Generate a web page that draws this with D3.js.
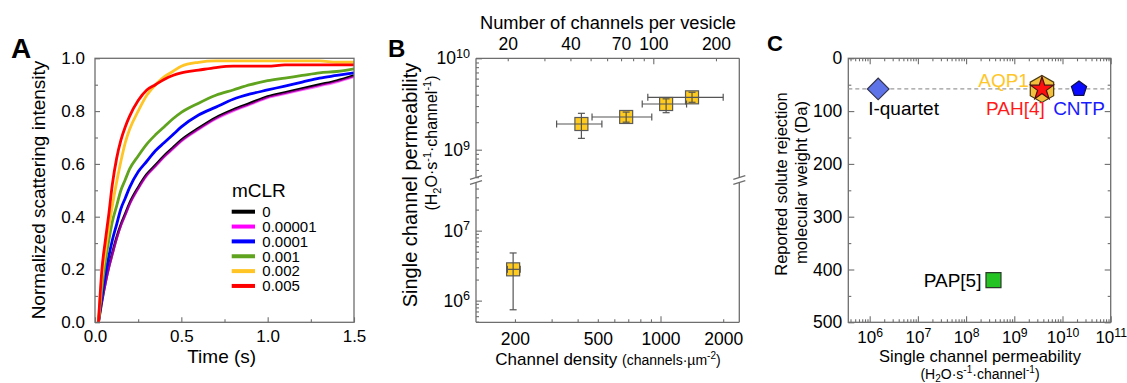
<!DOCTYPE html>
<html><head><meta charset="utf-8">
<script src="https://cdn.jsdelivr.net/npm/d3@7"></script>
<style>
html,body{margin:0;padding:0;background:#fff;}
svg{display:block;font-family:"Liberation Sans",Arial,Helvetica,sans-serif;}
</style></head><body>
<svg id="fig" width="1127" height="383"></svg>
<script>
// ---------- Panel A: normalized light-scattering traces ----------
const timeS = [0.02,0.04,0.06,0.08,0.10,0.125,0.15,0.175,0.20,0.25,0.30,0.35,0.40,0.45,0.50,0.60,0.70,0.80,0.90,1.00,1.10,1.20,1.30,1.40,1.50];
const mclrLabels = ["0","0.00001","0.0001","0.001","0.002","0.005"];
const mclrColors = ["#000000","#ff00ff","#0000ff","#5fa31e","#ffc425","#ff0000"];
const trace0     = [0,0.08,0.15,0.21,0.26,0.32,0.37,0.41,0.45,0.51,0.56,0.595,0.63,0.66,0.69,0.735,0.775,0.805,0.83,0.855,0.87,0.885,0.90,0.915,0.935];
const trace00001 = [0,0.08,0.145,0.205,0.255,0.315,0.365,0.405,0.445,0.505,0.555,0.59,0.625,0.655,0.685,0.73,0.77,0.80,0.825,0.85,0.865,0.88,0.895,0.91,0.93];
const trace0001  = [0,0.10,0.18,0.25,0.31,0.37,0.43,0.47,0.51,0.57,0.61,0.65,0.68,0.71,0.74,0.785,0.815,0.845,0.865,0.88,0.895,0.91,0.925,0.935,0.945];
const trace001   = [0,0.13,0.23,0.31,0.38,0.44,0.50,0.54,0.58,0.63,0.675,0.71,0.74,0.77,0.795,0.83,0.86,0.88,0.90,0.915,0.925,0.935,0.945,0.95,0.96];
const trace002   = [0,0.17,0.27,0.36,0.44,0.53,0.61,0.68,0.73,0.80,0.86,0.90,0.93,0.95,0.97,0.985,0.99,0.99,0.99,0.99,0.99,0.99,0.99,0.985,0.985];
const trace005   = [0,0.20,0.31,0.41,0.52,0.62,0.69,0.74,0.78,0.84,0.88,0.90,0.92,0.935,0.945,0.955,0.965,0.97,0.97,0.97,0.975,0.975,0.975,0.975,0.975];
const tracesA = [trace0,trace00001,trace0001,trace001,trace002,trace005];
const timeTicks = [0,0.5,1.0,1.5];
const intensityTicks = [0,0.2,0.4,0.6,0.8,1.0];

// ---------- Panel B: single channel permeability vs density ----------
const densityB   = [196,417,684,1064,1417];
const densityLoB = [184,317,469,817,869];
const densityHiB = [212,523,908,1334,2000];
const permB      = [2.8e6,1.91e9,2.28e9,3.16e9,3.74e9];
const permLoB    = [7.4e5,1.33e9,2.0e9,2.54e9,3.3e9];
const permHiB    = [4.8e6,2.5e9,2.58e9,3.6e9,4.25e9];
const densityTickLabels = [200,500,1000,2000];
const vesicleTickLabels = [20,40,70,100,200];
const channelsPerDensity = 0.1083;   // channels per vesicle per (channels·µm^-2)

// ---------- Panel C: solute rejection vs permeability ----------
const systemNames = ["I-quartet","AQP1","PAH[4]","CNTP","PAP[5]"];
const systemPerm  = [1.5e6,3.75e9,3.75e9,2.2e10,3.7e8];
const systemMW    = [58,58,58,58,420];
const referenceMW = 58;
const mwTicks = [0,100,200,300,400,500];

// ---------- shared styling ----------
const svg = d3.select("#fig");
svg.append("rect").attr("width",1127).attr("height",383).attr("fill","#fff");
const frameColor = "#6e6e6e";
const frameW = 1.3;

function axisLayer(g, axisFn, scale, transform, vals, len, fmt, pad, fs) {
  const ax = axisFn(scale).tickValues(vals).tickSizeInner(-len).tickSizeOuter(0)
    .tickPadding(pad || 0).tickFormat(fmt || (() => ""));
  const sel = g.append("g").attr("transform", transform).call(ax);
  sel.select(".domain").remove();
  sel.attr("font-family", null).attr("font-size", fs || 17);
  sel.selectAll("line").attr("stroke", frameColor).attr("stroke-width", 1.1);
  sel.selectAll("text").attr("fill", "#000");
  return sel;
}
function powerLabels(sel) {
  sel.selectAll("text").each(function(d) {
    const t = d3.select(this);
    t.text(null);
    t.append("tspan").text("10");
    t.append("tspan").attr("dy", "-0.5em").attr("font-size", "0.72em").text(Math.round(Math.log10(d)));
  });
}
const isDecade = v => Math.abs(Math.log10(v) - Math.round(Math.log10(v))) < 1e-6;

// ================= Panel A =================
{
  const x = d3.scaleLinear([0, 1.5], [95, 354]);
  const y = d3.scaleLinear([0, 1], [322.3, 58.3]);
  const g = svg.append("g");
  g.append("defs").append("clipPath").attr("id", "clipA")
    .append("rect").attr("x", 95).attr("y", 58.3).attr("width", 259).attr("height", 264);

  const line = d3.line().x((d, i) => x(timeS[i])).y(d => y(d)).curve(d3.curveMonotoneX);
  const plot = g.append("g").attr("clip-path", "url(#clipA)");
  tracesA.forEach((tr, k) => {
    plot.append("path").attr("d", line(tr)).attr("fill", "none")
      .attr("stroke", mclrColors[k])
      .attr("stroke-width", k === 1 ? 2.3 : 2.8)
      .attr("stroke-opacity", k === 1 ? 0.6 : 1)
      .attr("stroke-linejoin", "round");
  });

  // ticks
  const minorY = d3.range(0.1, 1.0, 0.2);
  axisLayer(g, d3.axisLeft, y, "translate(95,0)", intensityTicks, 5, d3.format(".1f"), 10, 17);
  axisLayer(g, d3.axisLeft, y, "translate(95,0)", minorY, 3);
  axisLayer(g, d3.axisBottom, x, "translate(0,322.3)", timeTicks, 5, d3.format(".1f"), 8, 17);
  axisLayer(g, d3.axisBottom, x, "translate(0,322.3)", [0.25,0.75,1.25], 3);
  g.append("rect").attr("x", 95).attr("y", 58.3).attr("width", 259).attr("height", 264)
    .attr("fill", "none").attr("stroke", frameColor).attr("stroke-width", frameW);

  g.append("text").attr("x", 221.7).attr("y", 363).attr("text-anchor", "middle")
    .attr("font-size", 19).text("Time (s)");
  g.append("text").attr("transform", "translate(45,190) rotate(-90)").attr("text-anchor", "middle")
    .attr("font-size", 19).text("Normalized scattering intensity");
  g.append("text").attr("x", 11).attr("y", 58).attr("font-size", 28).attr("font-weight", "bold").text("A");

  // legend
  const lg = g.append("g");
  lg.append("text").attr("x", 232).attr("y", 196.5).attr("font-size", 19).text("mCLR");
  mclrLabels.forEach((lab, k) => {
    const cy = 211.7 + k * 14.85;
    lg.append("line").attr("x1", 231.7).attr("x2", 255).attr("y1", cy).attr("y2", cy)
      .attr("stroke", mclrColors[k]).attr("stroke-width", 4);
    lg.append("text").attr("x", 262.3).attr("y", cy + 5.3).attr("font-size", 15).text(lab);
  });
}

// ================= Panel B =================
{
  const L = 476, R = 739.3, T = 58.3, B = 322.3;
  const breakTop = 178, breakBot = 183;
  const x = d3.scaleLog([130, 2390], [L, R]);
  const xTop = d3.scaleLog([130 * channelsPerDensity, 2390 * channelsPerDensity], [L, R]);
  const yUp = d3.scaleLog([4.9e8, 1e10], [breakTop, T]);
  const yLo = d3.scaleLog([4.9e5, 4.8e7], [B, breakBot]);
  const yOf = v => v >= 4.9e8 ? yUp(v) : yLo(v);
  const g = svg.append("g");

  // bottom axis
  const xt = x.ticks();
  axisLayer(g, d3.axisBottom, x, `translate(0,${B})`, xt.filter(isDecade), 6,
    v => densityTickLabels.includes(v) ? String(v) : "", 10, 17.5);
  axisLayer(g, d3.axisBottom, x, `translate(0,${B})`, xt.filter(v => !isDecade(v)), 3,
    v => densityTickLabels.includes(v) ? String(v) : "", 10, 17.5);
  // top axis (channels per vesicle)
  const tt = xTop.ticks();
  axisLayer(g, d3.axisTop, xTop, `translate(0,${T})`, tt.filter(isDecade), 6,
    v => vesicleTickLabels.includes(v) ? String(v) : "", 8, 17.5);
  axisLayer(g, d3.axisTop, xTop, `translate(0,${T})`, tt.filter(v => !isDecade(v)), 3,
    v => vesicleTickLabels.includes(v) ? String(v) : "", 8, 17.5);
  // left broken axis
  [yUp, yLo].forEach(sc => {
    const tv = sc.ticks();
    powerLabels(axisLayer(g, d3.axisLeft, sc, `translate(${L},0)`, tv.filter(isDecade), 6, d => d, 6, 17.5));
    axisLayer(g, d3.axisLeft, sc, `translate(${L},0)`, tv.filter(v => !isDecade(v)), 3);
  });

  // frame with breaks
  const fr = g.append("g").attr("stroke", frameColor).attr("stroke-width", frameW).attr("fill", "none");
  fr.append("line").attr("x1", L).attr("x2", R).attr("y1", T).attr("y2", T);
  fr.append("line").attr("x1", L).attr("x2", R).attr("y1", B).attr("y2", B);
  [L, R].forEach(xx => {
    fr.append("line").attr("x1", xx).attr("x2", xx).attr("y1", T).attr("y2", breakTop - 0.5);
    fr.append("line").attr("x1", xx).attr("x2", xx).attr("y1", breakBot - 0.5).attr("y2", B);
    [breakTop - 0.5, breakBot - 0.5].forEach(yy => {
      fr.append("line").attr("x1", xx - 6).attr("x2", xx + 6).attr("y1", yy + 1.8).attr("y2", yy - 1.8);
    });
  });

  // markers then error bars
  const pts = g.append("g");
  densityB.forEach((d, i) => {
    pts.append("rect").attr("x", x(d) - 6.5).attr("y", yOf(permB[i]) - 6.5)
      .attr("width", 13).attr("height", 13)
      .attr("fill", "#ffcb1f").attr("stroke", "#5a5a5a").attr("stroke-width", 1.2);
  });
  const eb = g.append("g").attr("stroke", "#555").attr("stroke-width", 1.2);
  densityB.forEach((d, i) => {
    const cx = x(d), cy = yOf(permB[i]);
    const y1 = yOf(permHiB[i]), y2 = yOf(permLoB[i]);
    const x1 = x(densityLoB[i]), x2 = x(densityHiB[i]);
    eb.append("line").attr("x1", cx).attr("x2", cx).attr("y1", y1).attr("y2", y2);
    eb.append("line").attr("x1", cx - 3.5).attr("x2", cx + 3.5).attr("y1", y1).attr("y2", y1);
    eb.append("line").attr("x1", cx - 3.5).attr("x2", cx + 3.5).attr("y1", y2).attr("y2", y2);
    eb.append("line").attr("x1", x1).attr("x2", x2).attr("y1", cy).attr("y2", cy);
    eb.append("line").attr("x1", x1).attr("x2", x1).attr("y1", cy - 3.5).attr("y2", cy + 3.5);
    eb.append("line").attr("x1", x2).attr("x2", x2).attr("y1", cy - 3.5).attr("y2", cy + 3.5);
  });

  // titles
  g.append("text").attr("x", 608).attr("y", 29).attr("text-anchor", "middle").attr("font-size", 18.3)
    .text("Number of channels per vesicle");
  const xt1 = g.append("text").attr("x", 608).attr("y", 365).attr("text-anchor", "middle").attr("font-size", 17);
  xt1.append("tspan").text("Channel density ");
  xt1.append("tspan").attr("font-size", 14).text("(channels·µm");
  xt1.append("tspan").attr("font-size", 10).attr("dy", -6).text("-2");
  xt1.append("tspan").attr("font-size", 14).attr("dy", 6).text(")");

  g.append("text").attr("transform", "translate(417,185) rotate(-90)").attr("text-anchor", "middle")
    .attr("font-size", 20).text("Single channel permeability");
  const yl2 = g.append("text").attr("transform", "translate(437,143) rotate(-90)").attr("text-anchor", "middle")
    .attr("font-size", 16);
  yl2.append("tspan").text("(H");
  yl2.append("tspan").attr("font-size", 11).attr("dy", 4).text("2");
  yl2.append("tspan").attr("dy", -4).text("O·s");
  yl2.append("tspan").attr("font-size", 11).attr("dy", -6).text("-1");
  yl2.append("tspan").attr("dy", 6).text("·channel");
  yl2.append("tspan").attr("font-size", 11).attr("dy", -6).text("-1");
  yl2.append("tspan").attr("dy", 6).text(")");

  g.append("text").attr("x", 388).attr("y", 57).attr("font-size", 24).attr("font-weight", "bold").text("B");
}

// ================= Panel C =================
{
  const L = 848.3, R = 1110.7, T = 58.3, B = 322.3;
  const x = d3.scaleLog([3.6e5, 1e11], [L, R]);
  const y = d3.scaleLinear([0, 500], [T, B]);
  const g = svg.append("g");

  const xt = x.ticks();
  const majX = xt.filter(isDecade), minX = xt.filter(v => !isDecade(v));
  const minorMW = d3.range(50, 500, 100);
  powerLabels(axisLayer(g, d3.axisBottom, x, `translate(0,${B})`, majX, 6, d => d, 9, 17));
  axisLayer(g, d3.axisBottom, x, `translate(0,${B})`, minX, 3);
  axisLayer(g, d3.axisTop, x, `translate(0,${T})`, majX, 6);
  axisLayer(g, d3.axisTop, x, `translate(0,${T})`, minX, 3);
  axisLayer(g, d3.axisLeft, y, `translate(${L},0)`, mwTicks, 6, d3.format("d"), 6, 17.5);
  axisLayer(g, d3.axisLeft, y, `translate(${L},0)`, minorMW, 3);
  axisLayer(g, d3.axisRight, y, `translate(${R},0)`, mwTicks, 6);
  axisLayer(g, d3.axisRight, y, `translate(${R},0)`, minorMW, 3);
  g.append("rect").attr("x", L).attr("y", T).attr("width", R - L).attr("height", B - T)
    .attr("fill", "none").attr("stroke", frameColor).attr("stroke-width", frameW);

  // reference line
  g.append("line").attr("x1", L).attr("x2", R).attr("y1", y(referenceMW)).attr("y2", y(referenceMW))
    .attr("stroke", "#9a9a9a").attr("stroke-width", 1.2).attr("stroke-dasharray", "4,3");

  const polygon = (n, r, rot) => d3.line()(d3.range(n).map(k => {
    const a = rot + k * 2 * Math.PI / n;
    return [r * Math.sin(a), -r * Math.cos(a)];
  })) + "Z";
  const markerStyle = {
    "I-quartet": {path: d3.symbol(d3.symbolSquare, 235)(), rot: 45, fill: "#5f73e8", stroke: "#33334d"},
    "AQP1":      {path: polygon(6, 13.5, 0), rot: 0, fill: "#f3c03e", stroke: "#4a3a10"},
    "PAH[4]":    {path: d3.symbol(d3.symbolStar, 165)(), rot: 0, fill: "#ff1010", stroke: "#4a1010"},
    "CNTP":      {path: polygon(5, 8, 0), rot: 0, fill: "#0a0aff", stroke: "#10104a"},
    "PAP[5]":    {path: d3.symbol(d3.symbolSquare, 225)(), rot: 0, fill: "#22c322", stroke: "#2a3a2a"}
  };
  const labelStyle = {
    "I-quartet": {dx: -10, dy: 26, anchor: "start", color: "#000"},
    "AQP1":      {dx: -13, dy: -2, anchor: "end", color: "#ffc62a"},
    "PAH[4]":    {dx: -26.5, dy: 26, anchor: "middle", color: "#ff1a1a"},
    "CNTP":      {dx: 0, dy: 26, anchor: "middle", color: "#1a1aff"},
    "PAP[5]":    {dx: -12, dy: 6.5, anchor: "end", color: "#000"}
  };
  systemNames.forEach((name, i) => {
    const cx = x(systemPerm[i]), cy = y(systemMW[i]);
    const ms = markerStyle[name];
    g.append("path").attr("d", ms.path)
      .attr("transform", `translate(${cx},${cy}) rotate(${ms.rot})`)
      .attr("fill", ms.fill).attr("stroke", ms.stroke).attr("stroke-width", 1.2);
  });
  systemNames.forEach((name, i) => {
    const cx = x(systemPerm[i]), cy = y(systemMW[i]);
    const ls = labelStyle[name];
    g.append("text").attr("x", cx + ls.dx).attr("y", cy + ls.dy).attr("text-anchor", ls.anchor)
      .attr("fill", ls.color).attr("font-size", 19).text(name);
  });

  // titles
  g.append("text").attr("x", 980).attr("y", 362).attr("text-anchor", "middle").attr("font-size", 16.5)
    .text("Single channel permeability");
  const xl2 = g.append("text").attr("x", 980).attr("y", 378.5).attr("text-anchor", "middle").attr("font-size", 14);
  xl2.append("tspan").text("(H");
  xl2.append("tspan").attr("font-size", 10).attr("dy", 3).text("2");
  xl2.append("tspan").attr("dy", -3).text("O·s");
  xl2.append("tspan").attr("font-size", 10).attr("dy", -6).text("-1");
  xl2.append("tspan").attr("dy", 6).text("·channel");
  xl2.append("tspan").attr("font-size", 10).attr("dy", -6).text("-1");
  xl2.append("tspan").attr("dy", 6).text(")");

  g.append("text").attr("transform", "translate(787,184) rotate(-90)").attr("text-anchor", "middle")
    .attr("font-size", 16.5).text("Reported solute rejection");
  g.append("text").attr("transform", "translate(807,182.5) rotate(-90)").attr("text-anchor", "middle")
    .attr("font-size", 16.8).text("molecular weight (Da)");

  g.append("text").attr("x", 767).attr("y", 51).attr("font-size", 22).attr("font-weight", "bold").text("C");
}
</script>
</body></html>
